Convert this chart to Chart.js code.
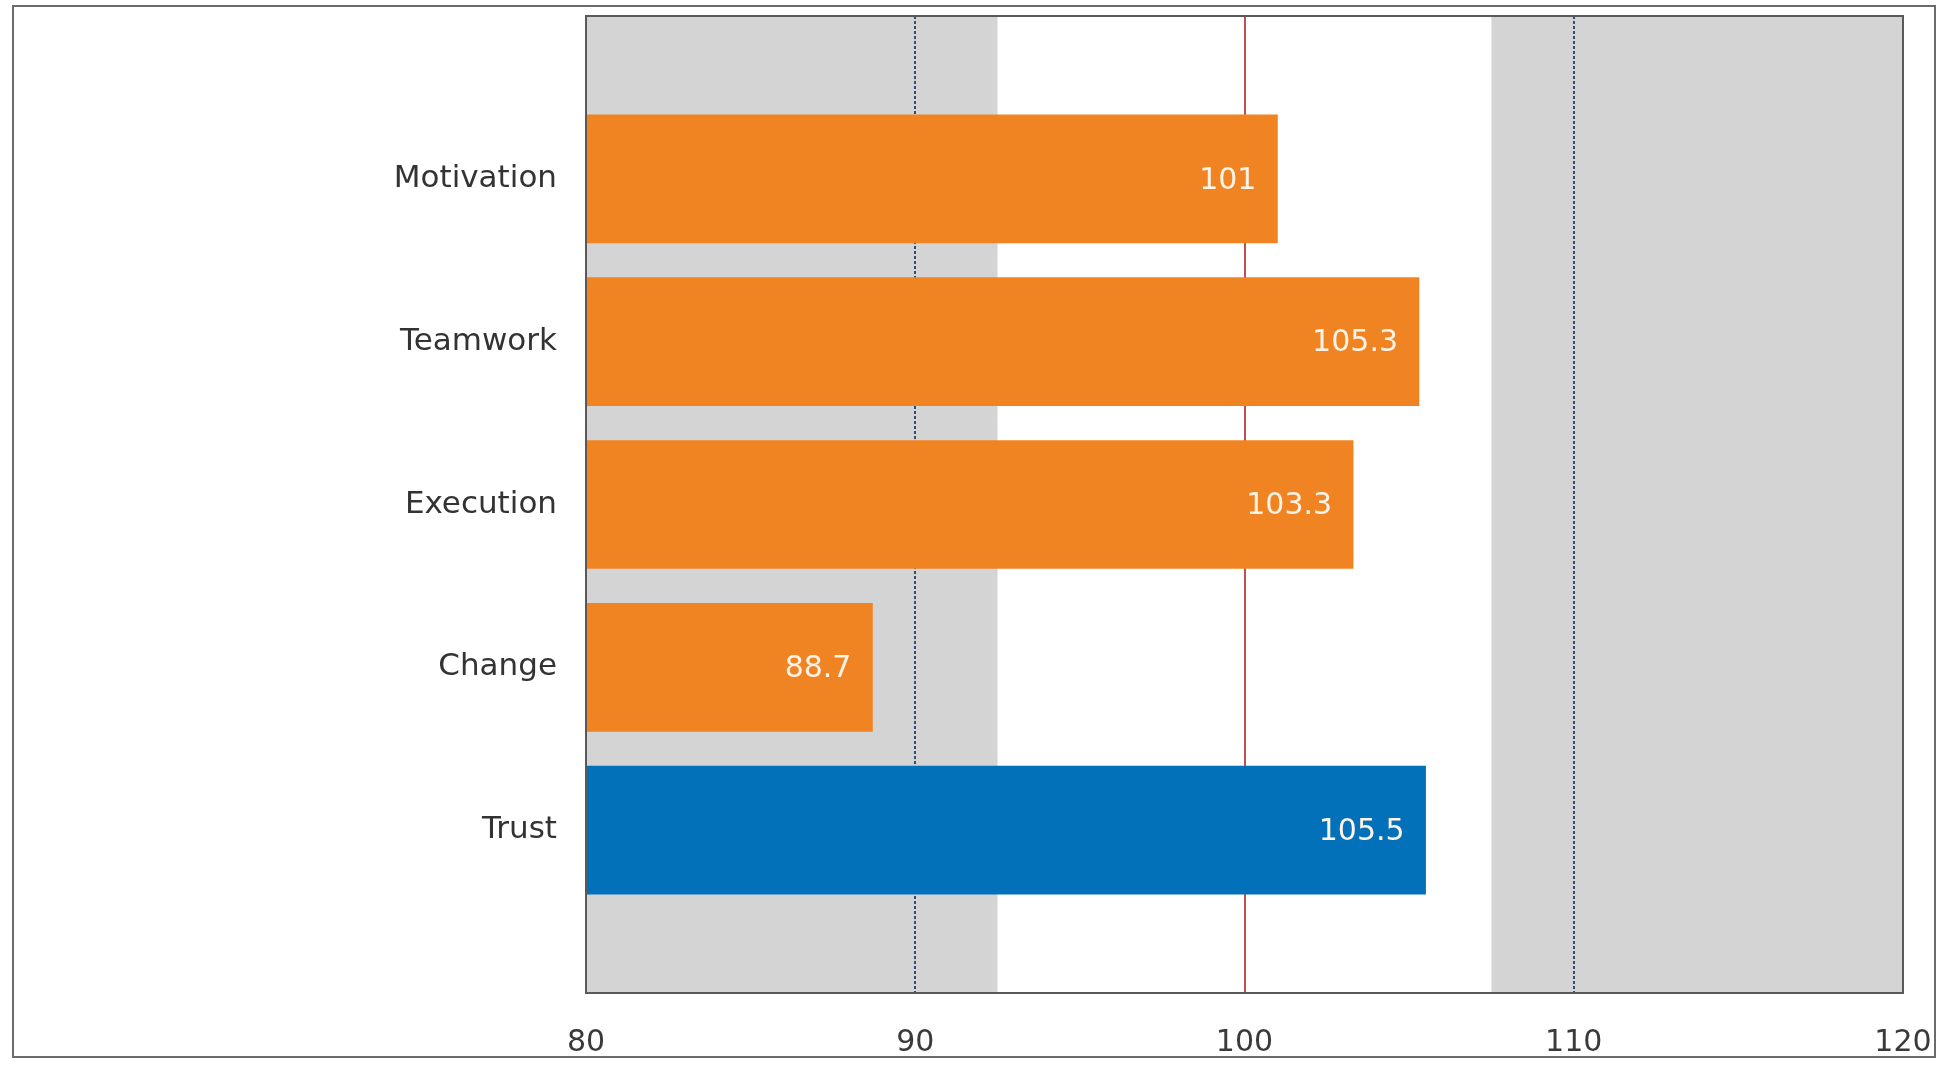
<!DOCTYPE html>
<html>
<head>
<meta charset="utf-8">
<script src="https://cdn.jsdelivr.net/npm/chart.js@4"></script>
<style>
  html, body { margin: 0; padding: 0; background: #fff; }
  #wrap { position: absolute; left: 0; top: 0; width: 1944px; height: 1065px; }
  #frame { position: absolute; left: 12px; top: 5px; width: 1924px; height: 1053px;
           border: 2px solid #6b6b6b; box-sizing: border-box; pointer-events: none; }
</style>
</head>
<body>
<div id="wrap"><canvas id="scoreChart"></canvas></div>
<div id="frame"></div>
<script>
// data
const categories = ['Motivation', 'Teamwork', 'Execution', 'Change', 'Trust'];
const scores = [101, 105.3, 103.3, 88.7, 105.5];
const highlight = 'Trust';
const bands = [[80, 92.5], [107.5, 120]];   // grey zones
const targetLines = [90, 110];              // dotted lines
const benchmark = 100;                      // red line
const xTicks = [80, 90, 100, 110, 120];

// one empty slot above and below the bars
const slotLabels = [''].concat(categories, ['']);
const slotValues = [null].concat(scores, [null]);

const FONT = "'DejaVu Sans', sans-serif";

// bands and reference lines behind the bars
const backdrop = {
    id: 'backdrop',
    beforeDatasetsDraw(chart) {
        const { ctx, chartArea: a, scales: { x } } = chart;
        ctx.save();
        ctx.fillStyle = '#d4d4d4';
        bands.forEach(b => {
            const x0 = x.getPixelForValue(b[0]);
            const x1 = x.getPixelForValue(b[1]);
            ctx.fillRect(x0, a.top, x1 - x0, a.bottom - a.top);
        });
        ctx.lineWidth = 2;
        ctx.strokeStyle = '#2f4f75';
        ctx.setLineDash([3, 2]);
        targetLines.forEach(v => {
            const px = Math.round(x.getPixelForValue(v));
            ctx.beginPath();
            ctx.moveTo(px, a.top);
            ctx.lineTo(px, a.bottom);
            ctx.stroke();
        });
        ctx.setLineDash([]);
        ctx.strokeStyle = '#c0504d';
        const bx = Math.round(x.getPixelForValue(benchmark));
        ctx.beginPath();
        ctx.moveTo(bx, a.top);
        ctx.lineTo(bx, a.bottom);
        ctx.stroke();
        ctx.restore();
    },
    afterDatasetsDraw(chart) {
        const { ctx, chartArea: a } = chart;
        ctx.save();
        // value labels inside the bar ends
        const meta = chart.getDatasetMeta(0);
        ctx.font = '30px ' + FONT;
        ctx.textAlign = 'right';
        ctx.textBaseline = 'middle';
        ctx.fillStyle = '#fdf3e8';
        meta.data.forEach((bar, i) => {
            const v = slotValues[i];
            if (v === null) return;
            ctx.fillText(String(v), bar.x - 21, bar.y + 2);
        });
        // plot frame
        ctx.strokeStyle = '#595959';
        ctx.lineWidth = 2;
        ctx.strokeRect(a.left, a.top, a.right - a.left, a.bottom - a.top);
        ctx.restore();
    }
};

const ctx = document.getElementById('scoreChart').getContext('2d');
new Chart(ctx, {
    type: 'bar',
    data: {
        labels: slotLabels,
        datasets: [{
            data: slotValues,
            backgroundColor: (c) => slotLabels[c.dataIndex] === highlight ? '#0371ba' : '#f08422',
            borderWidth: 0,
            barThickness: 128
        }]
    },
    options: {
        indexAxis: 'y',
        responsive: true,
        maintainAspectRatio: false,
        animation: false,
        layout: { padding: { top: 16, right: 41, left: 0, bottom: 0 } },
        scales: {
            x: {
                min: 80,
                max: 120,
                afterBuildTicks: (axis) => { axis.ticks = xTicks.map(v => ({ value: v })); },
                afterFit: (axis) => {
                    axis.height = 72;
                    axis.paddingLeft = 0;
                    axis.paddingRight = 0;
                },
                grid: { display: false, drawTicks: false },
                border: { display: false },
                ticks: {
                    padding: 32,
                    color: '#3a3a3a',
                    font: { family: FONT, size: 30 }
                }
            },
            y: {
                offset: false,
                afterFit: (axis) => {
                    axis.width = 586;
                    axis.paddingTop = 0;
                    axis.paddingBottom = 0;
                },
                grid: { display: false, drawTicks: false },
                border: { display: false },
                ticks: {
                    padding: 29,
                    color: '#333333',
                    font: { family: FONT, size: 31 }
                }
            }
        },
        plugins: {
            legend: { display: false },
            tooltip: { enabled: false }
        }
    },
    plugins: [backdrop]
});
</script>
</body>
</html>
